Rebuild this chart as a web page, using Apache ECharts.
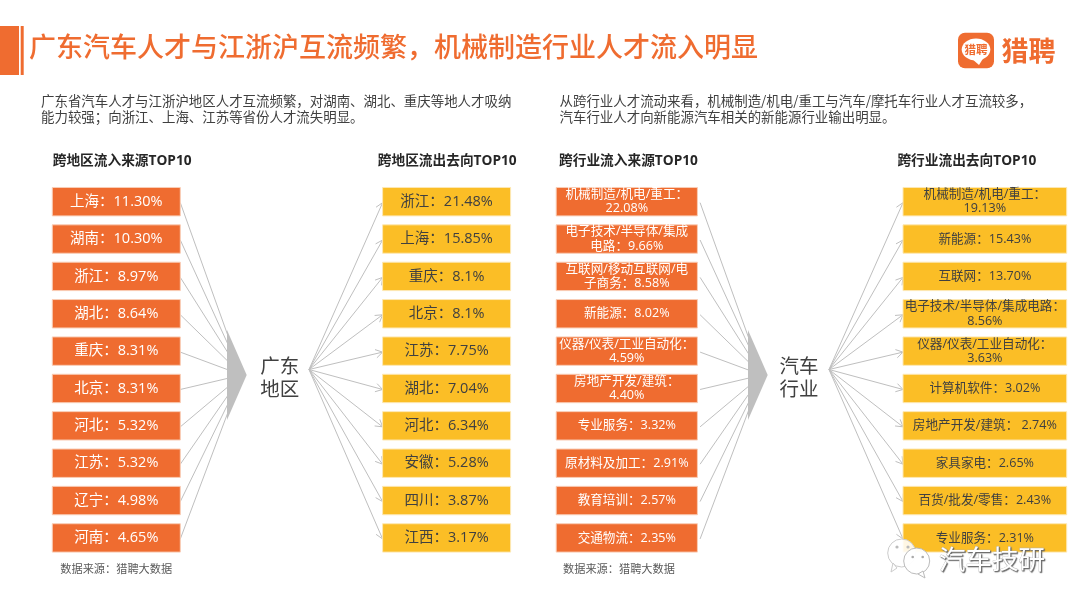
<!DOCTYPE html>
<html><head><meta charset="utf-8">
<script src="https://cdn.jsdelivr.net/npm/echarts@6/dist/echarts.min.js"></script>
<style>html,body{margin:0;padding:0;background:#fff}#c{width:1080px;height:608px}</style>
</head><body><div id="c"></div>
<script>
const regionInNames = ['上海','湖南','浙江','湖北','重庆','北京','河北','江苏','辽宁','河南'];
const regionInValues = ['11.30','10.30','8.97','8.64','8.31','8.31','5.32','5.32','4.98','4.65'];
const regionOutNames = ['浙江','上海','重庆','北京','江苏','湖北','河北','安徽','四川','江西'];
const regionOutValues = ['21.48','15.85','8.1','8.1','7.75','7.04','6.34','5.28','3.87','3.17'];
const industryInNames = ['机械制造/机电/重工：\n','电子技术/半导体/集成\n电路：','互联网/移动互联网/电\n子商务：','新能源：','仪器/仪表/工业自动化：\n','房地产开发/建筑：\n','专业服务：','原材料及加工：','教育培训：','交通物流：'];
const industryInValues = ['22.08','9.66','8.58','8.02','4.59','4.40','3.32','2.91','2.57','2.35'];
const industryOutNames = ['机械制造/机电/重工：\n','新能源：','互联网：','电子技术/半导体/集成电路：\n','仪器/仪表/工业自动化：\n','计算机软件：','房地产开发/建筑： ','家具家电：','百货/批发/零售：','专业服务：'];
const industryOutValues = ['19.13','15.43','13.70','8.56','3.63','3.02','2.74','2.65','2.43','2.31'];

const FONT = '"Open Sans","Noto Sans CJK SC",sans-serif';
const CJK = '"Noto Sans CJK SC",sans-serif';
const ORANGE = '#EF6C30', YELLOW = '#FBBE26', GREY = '#BFBFBF', INK = '#404040';

const panels = [
  {names: regionInNames.map(n => n + '：'), values: regionInValues, left: 52.3, width: 128, fill: ORANGE, edge: '#F9CDB6', ink: '#fff', size: 14.5, dir: 'in', fx: 242, gap: 0},
  {names: regionOutNames.map(n => n + '：'), values: regionOutValues, left: 382.6, width: 128, fill: YELLOW, edge: '#FDE8B4', ink: INK, size: 14.5, dir: 'out', fx: 309, gap: 0},
  {names: industryInNames, values: industryInValues, left: 556.2, width: 141.2, fill: ORANGE, edge: '#F9CDB6', ink: '#fff', size: 12.6, dir: 'in', fx: 762, gap: 2.7},
  {names: industryOutNames, values: industryOutValues, left: 903, width: 163.7, fill: YELLOW, edge: '#FDE8B4', ink: INK, size: 12.6, dir: 'out', fx: 829, gap: 0}
];
const GRID_TOP = 183, GRID_H = 373.6, BOX_H = 28.4;
const FOCUS_Y_IN = 375, FOCUS_Y_OUT = 369.5;

function renderRow(p) {
  return function (params, api) {
    const i = api.value(1);
    const cs = params.coordSys;
    const cy = api.coord([0, i])[1];
    const h = Math.min(BOX_H, api.size([0, 1])[1]);
    const kids = [];
    let x1, y1, x2, y2;
    if (p.dir === 'in') {
      x1 = cs.x + cs.width + p.gap; y1 = cy + 1; x2 = p.fx; y2 = FOCUS_Y_IN;
    } else {
      x1 = p.fx; y1 = FOCUS_Y_OUT; x2 = cs.x; y2 = cy + 1;
    }
    kids.push({type: 'line', shape: {x1, y1, x2, y2}, style: {stroke: GREY, lineWidth: 1, fill: null}});
    if (p.dir === 'out') {
      const a = Math.atan2(y2 - y1, x2 - x1), L = 8, w = 0.55;
      kids.push({type: 'polyline', shape: {points: [
        [x2 - L * Math.cos(a - w), y2 - L * Math.sin(a - w)], [x2, y2],
        [x2 - L * Math.cos(a + w), y2 - L * Math.sin(a + w)]]},
        style: {stroke: GREY, lineWidth: 1, fill: null}});
    }
    kids.push({type: 'rect', shape: {x: cs.x, y: cy - h / 2, width: cs.width, height: h},
      style: {fill: p.fill, stroke: p.edge, lineWidth: 1}});
    kids.push({type: 'text', style: {
      text: p.names[i] + p.values[i] + '%', x: cs.x + cs.width / 2, y: cy,
      align: 'center', verticalAlign: 'middle', fill: p.ink,
      fontSize: p.size, fontFamily: FONT, lineHeight: p.size + 1.8}});
    return {type: 'group', children: kids};
  };
}

const txt = (text, x, y, size, fill, extra) => {
  const e = extra || {};
  const {z, ...rest} = e;
  return {type: 'text', z: z || 5, style: Object.assign(
    {text, x, y, fontSize: size, fill, fontFamily: FONT, verticalAlign: 'middle'}, rest)};
};
const tri = (x) => ({type: 'polygon', z: 5, shape: {points: [[x, 330], [x + 19.7, 375], [x, 420]]}, style: {fill: GREY}});
const HEAD = {fontWeight: 'bold'};
const graphics = [
  {type: 'rect', shape: {x: 0, y: 26, width: 19, height: 49}, style: {fill: ORANGE}},
  {type: 'rect', shape: {x: 20.7, y: 26, width: 3, height: 49}, style: {fill: ORANGE}},
  txt('广东汽车人才与江浙沪互流频繁，机械制造行业人才流入明显', 29, 47, 27, ORANGE, {fontWeight: 500, fontFamily: CJK}),
  txt('广东省汽车人才与江浙沪地区人才互流频繁，对湖南、湖北、重庆等地人才吸纳\n能力较强；向浙江、上海、江苏等省份人才流失明显。', 41, 109, 13.45, INK, {lineHeight: 16.3, fontFamily: CJK}),
  txt('从跨行业人才流动来看，机械制造/机电/重工与汽车/摩托车行业人才互流较多，\n汽车行业人才向新能源汽车相关的新能源行业输出明显。', 559.5, 109, 13.45, INK, {lineHeight: 16.3, fontFamily: CJK}),
  txt('跨地区流入来源TOP10', 52.7, 161, 13.7, '#262626', HEAD),
  txt('跨地区流出去向TOP10', 377.8, 161, 13.7, '#262626', HEAD),
  txt('跨行业流入来源TOP10', 559, 161, 13.7, '#262626', HEAD),
  txt('跨行业流出去向TOP10', 897.4, 161, 13.7, '#262626', HEAD),
  tri(227), tri(748),
  txt('广东\n地区', 279.8, 377, 19.5, INK, {align: 'center', lineHeight: 23.5, fontFamily: CJK}),
  txt('汽车\n行业', 799, 377, 19.5, INK, {align: 'center', lineHeight: 23.5, fontFamily: CJK}),
  txt('数据来源：猎聘大数据', 60.3, 569, 11.2, '#595959', {fontFamily: CJK}),
  txt('数据来源：猎聘大数据', 563, 569, 11.2, '#595959', {fontFamily: CJK}),
  // logo
  {type: 'rect', z: 5, shape: {x: 958, y: 32.7, width: 36, height: 35.5, r: 7}, style: {fill: ORANGE}},
  {type: 'ellipse', z: 6, shape: {cx: 976, cy: 49.5, rx: 14.3, ry: 11}, style: {fill: '#fff'}},
  {type: 'polygon', z: 6, shape: {points: [[971, 58], [984, 57], [979, 65]]}, style: {fill: '#fff'}},
  txt('猎聘', 976, 49.5, 11.5, ORANGE, {align: 'center', fontWeight: 'bold', fontFamily: CJK, z: 7}),
  txt('猎聘', 1001.5, 51, 27, ORANGE, {fontWeight: 'bold', fontFamily: CJK}),
  // watermark
  {type: 'circle', z: 8, shape: {cx: 901.7, cy: 553, r: 14}, style: {fill: 'rgba(255,255,255,.88)', stroke: '#ccc', lineWidth: 1}},
  {type: 'polygon', z: 8, shape: {points: [[893, 563], [897, 568], [891, 572]]}, style: {fill: 'rgba(255,255,255,.9)', stroke: '#ccc', lineWidth: 1}},
  {type: 'circle', z: 9, shape: {cx: 916.7, cy: 561, r: 13}, style: {fill: 'rgba(255,255,255,.95)', stroke: '#bbb', lineWidth: 1}},
  {type: 'polygon', z: 9, shape: {points: [[923, 571], [925, 578], [918, 574]]}, style: {fill: '#fff', stroke: '#bbb', lineWidth: 1}},
  {type: 'circle', z: 10, shape: {cx: 897, cy: 547, r: 1.6}, style: {fill: '#bbb'}},
  {type: 'circle', z: 10, shape: {cx: 908, cy: 547, r: 1.6}, style: {fill: '#bbb'}},
  {type: 'circle', z: 10, shape: {cx: 912.7, cy: 557, r: 1.3}, style: {fill: '#aaa'}},
  {type: 'circle', z: 10, shape: {cx: 922.7, cy: 557, r: 1.3}, style: {fill: '#aaa'}},
  txt('汽车技研', 939, 559, 26.5, '#fff', {textShadowColor: '#666', textShadowBlur: 1, textShadowOffsetX: 1, textShadowOffsetY: 1, stroke: '#b5b5b5', lineWidth: 0.6, fontFamily: CJK, z: 10})
];

const option = {
  animation: false,
  backgroundColor: '#fff',
  grid: panels.map(p => ({left: p.left, width: p.width, top: GRID_TOP, height: GRID_H, containLabel: false})),
  xAxis: panels.map((p, k) => ({type: 'value', gridIndex: k, show: false, min: 0, max: 25})),
  yAxis: panels.map((p, k) => ({type: 'category', gridIndex: k, show: false, inverse: true, data: p.names})),
  series: panels.map((p, k) => ({
    type: 'custom', xAxisIndex: k, yAxisIndex: k, silent: true,
    encode: {x: 0, y: 1}, clip: false,
    renderItem: renderRow(p),
    data: p.values.map((v, i) => [Number(v), i])
  })),
  graphic: {z: 100, elements: graphics}
};
echarts.init(document.getElementById('c'), null, {renderer: 'canvas'}).setOption(option);
</script></body></html>
